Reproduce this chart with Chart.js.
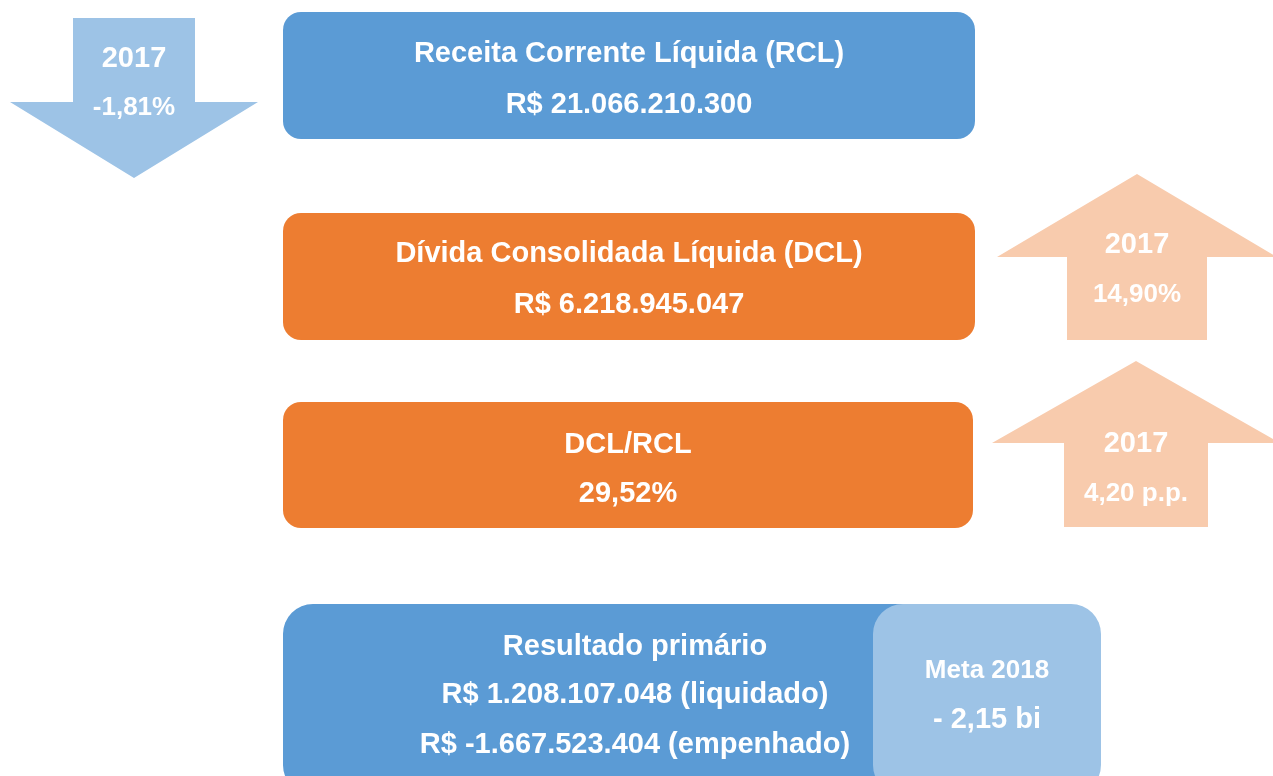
<!DOCTYPE html>
<html>
<head>
<meta charset="utf-8">
<script src="https://cdn.jsdelivr.net/npm/chart.js@4"></script>
<style>
  html, body { margin: 0; padding: 0; background: #fff; }
  #wrap { width: 1273px; height: 776px; position: relative; }
</style>
</head>
<body>
<div id="wrap"><canvas id="panel"></canvas></div>
<script>
// indicator boxes
const indicatorNames = ["Receita Corrente Líquida (RCL)", "Dívida Consolidada Líquida (DCL)", "DCL/RCL"];
const indicatorValues = [21066210300, 6218945047, 29.52];
const indicatorUnits = ["R$", "R$", "%"];

// change vs previous year (arrows)
const changeYears = ["2017", "2017", "2017"];
const changeValues = [-1.81, 14.90, 4.20];
const changeUnits = ["%", "%", " p.p."];

// primary result
const resultTitle = "Resultado primário";
const resultValues = [1208107048, -1667523404];
const resultKinds = ["liquidado", "empenhado"];
const targetLabel = "Meta 2018";
const targetValue = -2.15; // bi

const BLUE = "#5B9BD5", ORANGE = "#ED7D31", LIGHT_BLUE = "#9DC3E6", LIGHT_ORANGE = "#F8CBAD";
const FONT = "'Liberation Sans', Arial, sans-serif";

function brInt(n) {
  const s = Math.abs(n).toString().replace(/\B(?=(\d{3})+(?!\d))/g, ".");
  return (n < 0 ? "-" : "") + s;
}
function brDec(v, d) {
  return v.toFixed(d).replace(".", ",");
}
function fmtIndicator(v, unit) {
  return unit === "R$" ? "R$ " + brInt(v) : brDec(v, 2) + unit;
}

// layout only (page coordinates, mapped through the chart scales)
const boxLayout = [
  { x0: 283, x1: 975, y0: 12, y1: 139, r: 18, color: BLUE, cx: 629, lines: [62, 113] },
  { x0: 283, x1: 975, y0: 213, y1: 340, r: 18, color: ORANGE, cx: 629, lines: [262, 313] },
  { x0: 283, x1: 973, y0: 402, y1: 528, r: 18, color: ORANGE, cx: 628, lines: [453, 502] }
];
const arrowLayout = [
  { dir: "down", sx0: 73, sx1: 195, base: 18, neck: 102, hx0: 10, hx1: 258, tipX: 134, tipY: 178, color: LIGHT_BLUE, cx: 134, lines: [67, 115] },
  { dir: "up", sx0: 1067, sx1: 1207, base: 340, neck: 257, hx0: 997, hx1: 1277, tipX: 1137, tipY: 174, color: LIGHT_ORANGE, cx: 1137, lines: [253, 302] },
  { dir: "up", sx0: 1064, sx1: 1208, base: 527, neck: 443, hx0: 992, hx1: 1280, tipX: 1136, tipY: 361, color: LIGHT_ORANGE, cx: 1136, lines: [452, 501] }
];
const resultLayout = { x0: 283, x1: 1000, y0: 604, y1: 795, r: 30, cx: 635, lines: [655, 703, 753] };
const targetLayout = { x0: 873, x1: 1101, y0: 604, y1: 795, r: 30, cx: 987, lines: [678, 728] };

const infographic = {
  id: "infographic",
  afterDraw(chart) {
    const ctx = chart.ctx;
    const X = v => chart.scales.x.getPixelForValue(v);
    const Y = v => chart.scales.y.getPixelForValue(v);

    function roundBox(b, color) {
      ctx.beginPath();
      ctx.roundRect(X(b.x0), Y(b.y0), X(b.x1) - X(b.x0), Y(b.y1) - Y(b.y0), b.r);
      ctx.fillStyle = color;
      ctx.fill();
    }
    function text(str, cx, y, size) {
      ctx.font = "bold " + size + "px " + FONT;
      ctx.fillStyle = "#fff";
      ctx.textAlign = "center";
      ctx.textBaseline = "alphabetic";
      ctx.fillText(str, X(cx), Y(y));
    }

    ctx.save();
    // indicator boxes
    boxLayout.forEach((b, i) => {
      roundBox(b, b.color);
      text(indicatorNames[i], b.cx, b.lines[0], 29);
      text(fmtIndicator(indicatorValues[i], indicatorUnits[i]), b.cx, b.lines[1], 29);
    });

    // arrows
    arrowLayout.forEach((a, i) => {
      ctx.beginPath();
      ctx.moveTo(X(a.sx0), Y(a.base));
      ctx.lineTo(X(a.sx0), Y(a.neck));
      ctx.lineTo(X(a.hx0), Y(a.neck));
      ctx.lineTo(X(a.tipX), Y(a.tipY));
      ctx.lineTo(X(a.hx1), Y(a.neck));
      ctx.lineTo(X(a.sx1), Y(a.neck));
      ctx.lineTo(X(a.sx1), Y(a.base));
      ctx.closePath();
      ctx.fillStyle = a.color;
      ctx.fill();
      text(changeYears[i], a.cx, a.lines[0], 29);
      text(brDec(changeValues[i], 2) + changeUnits[i], a.cx, a.lines[1], 26);
    });

    // primary result
    roundBox(resultLayout, BLUE);
    text(resultTitle, resultLayout.cx, resultLayout.lines[0], 29);
    resultValues.forEach((v, i) => {
      text("R$ " + brInt(v) + " (" + resultKinds[i] + ")", resultLayout.cx, resultLayout.lines[i + 1], 29);
    });
    roundBox(targetLayout, LIGHT_BLUE);
    text(targetLabel, targetLayout.cx, targetLayout.lines[0], 26);
    text("- " + brDec(Math.abs(targetValue), 2) + " bi", targetLayout.cx, targetLayout.lines[1], 29);
    ctx.restore();
  }
};

new Chart(document.getElementById("panel"), {
  type: "scatter",
  data: { datasets: [{ data: [] }] },
  options: {
    responsive: true,
    maintainAspectRatio: false,
    animation: false,
    layout: { padding: 0 },
    plugins: { legend: { display: false }, tooltip: { enabled: false } },
    scales: {
      x: { type: "linear", min: 0, max: 1273, display: false },
      y: { type: "linear", min: 0, max: 776, reverse: true, display: false }
    }
  },
  plugins: [infographic]
});
</script>
</body>
</html>
